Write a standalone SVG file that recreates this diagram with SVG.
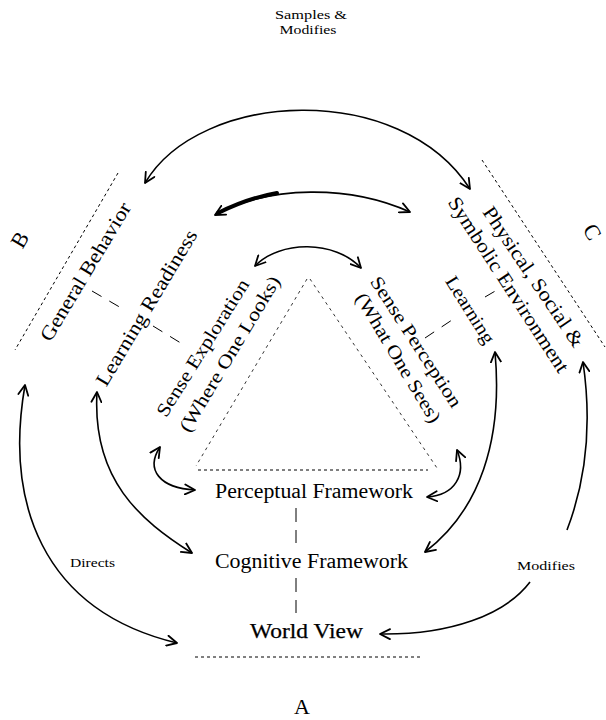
<svg xmlns="http://www.w3.org/2000/svg" width="606" height="720" viewBox="0 0 606 720">
<style>
text{font-family:"Liberation Serif","Times New Roman",serif;fill:#000}
.dot{fill:none;stroke:#000;stroke-width:1;stroke-dasharray:3,3}
.fine{fill:none;stroke:#000;stroke-width:0.8;stroke-dasharray:3,4}
.dash{fill:none;stroke:#000;stroke-width:1;stroke-dasharray:11,9}
.arc{fill:none;stroke:#000;stroke-width:1.6}
</style>
<defs>
<marker id="ah" viewBox="0 0 12 12" refX="11" refY="6" markerWidth="12" markerHeight="12" markerUnits="userSpaceOnUse" orient="auto-start-reverse">
<path d="M1,1 L11,6 L1,11" fill="none" stroke="#000" stroke-width="1.8" stroke-linecap="round" stroke-linejoin="round"/>
</marker>
</defs>
<rect width="606" height="720" fill="#fff"/>

<g id="guides">
<line class="dot" x1="118" y1="173" x2="15" y2="350"/>
<line class="dot" x1="482" y1="160" x2="605" y2="347"/>
<line class="dot" x1="195" y1="657" x2="422" y2="657"/>
<line class="fine" x1="307" y1="279" x2="196" y2="466"/>
<line class="fine" x1="310" y1="279" x2="437" y2="468"/>
<line class="dot" x1="198" y1="470" x2="428" y2="470"/>
</g>

<g id="dash-links">
<line class="dash" x1="92" y1="291" x2="123" y2="309"/>
<line class="dash" x1="153" y1="326" x2="184" y2="345"/>
<line class="dash" x1="425" y1="338" x2="452" y2="320"/>
<line class="dash" x1="485" y1="297" x2="497" y2="290"/>
<line class="dash" x1="296" y1="508" x2="296" y2="543" style="stroke-dasharray:14,8"/>
<line class="dash" x1="296" y1="578" x2="296" y2="613" style="stroke-dasharray:14,8"/>
</g>

<g id="labels-corner">
<text font-size="12" text-anchor="middle" x="311" y="19" textLength="72" lengthAdjust="spacingAndGlyphs">Samples &amp;</text>
<text font-size="12" text-anchor="middle" x="308" y="34" textLength="57" lengthAdjust="spacingAndGlyphs">Modifies</text>
<text font-size="22" text-anchor="middle" transform="translate(20,240) rotate(-60)" y="7">B</text>
<text font-size="22" text-anchor="middle" transform="translate(592,232) rotate(60)" y="7">C</text>
<text font-size="22" text-anchor="middle" x="302" y="714">A</text>
</g>

<g id="node-general-behavior">
<text font-size="20" text-anchor="middle" transform="translate(86,272) rotate(-59)" y="6" textLength="158" lengthAdjust="spacingAndGlyphs">General Behavior</text>
</g>
<g id="node-learning-readiness">
<text font-size="20" text-anchor="middle" transform="translate(147,308) rotate(-59)" y="6" textLength="178" lengthAdjust="spacingAndGlyphs">Learning Readiness</text>
</g>
<g id="node-sense-exploration">
<text font-size="19" text-anchor="middle" transform="translate(203,348) rotate(-58)" y="6" textLength="158" lengthAdjust="spacingAndGlyphs">Sense Exploration</text>
<text font-size="19" text-anchor="middle" transform="translate(230,354) rotate(-59)" y="6" textLength="178" lengthAdjust="spacingAndGlyphs">(Where One Looks)</text>
</g>
<g id="node-sense-perception">
<text font-size="19" text-anchor="middle" transform="translate(416,342) rotate(57)" y="6" textLength="152" lengthAdjust="spacingAndGlyphs">Sense Perception</text>
<text font-size="19" text-anchor="middle" transform="translate(398,358) rotate(59)" y="6" textLength="148" lengthAdjust="spacingAndGlyphs">(What One Sees)</text>
</g>
<g id="node-physical">
<text font-size="20" text-anchor="middle" transform="translate(533,277) rotate(56)" y="6" textLength="165" lengthAdjust="spacingAndGlyphs">Physical, Social &amp;</text>
<text font-size="20" text-anchor="middle" transform="translate(508,285) rotate(57)" y="6" textLength="205" lengthAdjust="spacingAndGlyphs">Symbolic Environment</text>
</g>
<g id="node-learning">
<text font-size="19" text-anchor="middle" transform="translate(470,310) rotate(58)" y="6" textLength="76" lengthAdjust="spacingAndGlyphs">Learning</text>
</g>
<g id="node-perceptual">
<text font-size="20" x="215" y="498" textLength="198" lengthAdjust="spacingAndGlyphs">Perceptual Framework</text>
</g>
<g id="node-cognitive">
<text font-size="20" x="215" y="568" textLength="193" lengthAdjust="spacingAndGlyphs">Cognitive Framework</text>
</g>
<g id="node-world-view">
<text font-size="20" x="250" y="638" textLength="113" lengthAdjust="spacingAndGlyphs" stroke="#000" stroke-width="0.25">World View</text>
</g>
<g id="label-directs">
<text font-size="12" x="70" y="567" textLength="45" lengthAdjust="spacingAndGlyphs">Directs</text>
</g>
<g id="label-modifies">
<text font-size="13" x="517" y="570" textLength="58" lengthAdjust="spacingAndGlyphs">Modifies</text>
</g>

<g id="connectors">
<path class="arc" d="M145,183 C200,90 400,80 470,189" marker-start="url(#ah)" marker-end="url(#ah)"/>
<path class="arc" d="M215,215 C270,185 350,185 410,212" marker-start="url(#ah)" marker-end="url(#ah)" stroke-width="1.8"/>
<path d="M218,213 C240,202 260,196 277,193" fill="none" stroke="#000" stroke-width="4" stroke-linecap="round"/>
<path class="arc" d="M255,266 C280,240 335,240 361,268" marker-start="url(#ah)" marker-end="url(#ah)" stroke-width="2.4"/>
<path class="arc" d="M25,385 C5,500 40,610 177,643" marker-start="url(#ah)" marker-end="url(#ah)" stroke-width="2"/>
<path class="arc" d="M97,392 C92,480 140,520 192,553" marker-start="url(#ah)" marker-end="url(#ah)"/>
<path class="arc" d="M160,447 C145,470 160,488 195,490" marker-start="url(#ah)" marker-end="url(#ah)" stroke-width="2"/>
<path class="arc" d="M457,450 C467,475 455,495 427,497" marker-start="url(#ah)" marker-end="url(#ah)" stroke-width="2"/>
<path class="arc" d="M495,352 C503,440 480,510 425,552" marker-start="url(#ah)" marker-end="url(#ah)" stroke-width="2"/>
<path class="arc" d="M567,530 C590,470 590,410 583,362" marker-end="url(#ah)"/>
<path class="arc" d="M530,582 C505,615 450,635 380,634" marker-end="url(#ah)"/>
</g>
</svg>
